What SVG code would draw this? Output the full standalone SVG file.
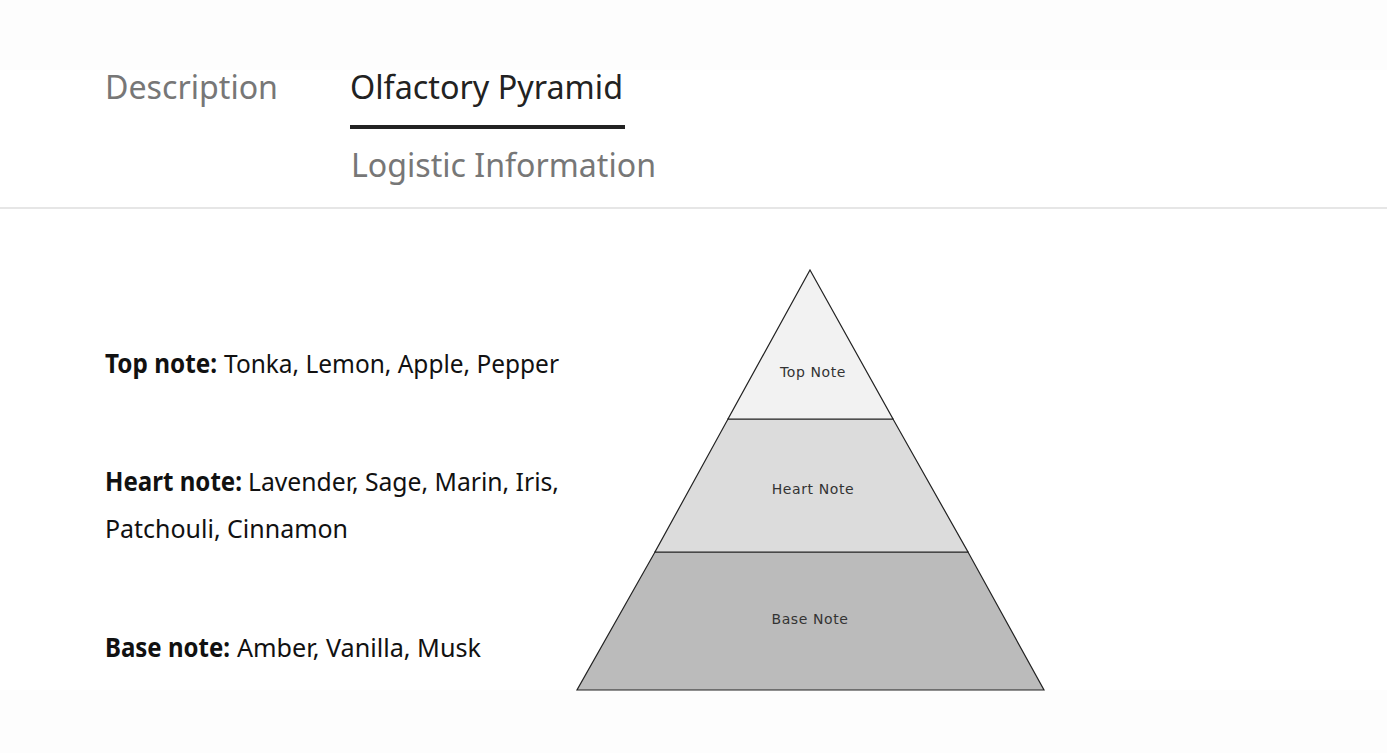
<svg xmlns="http://www.w3.org/2000/svg" width="1387" height="753" viewBox="0 0 1387 753">
<style>
.tab{font-family:"Noto Sans","Open Sans",sans-serif;font-size:32px}
.note{font-family:"Noto Sans","Open Sans",sans-serif;font-size:26px;fill:#111}
.b{font-weight:bold}
.lbl{font-family:"DejaVu Sans","Noto Sans",sans-serif;font-size:14px;fill:#333;text-anchor:middle;letter-spacing:0.6px}
.layer{stroke:#222;stroke-width:1.2}
</style>
<rect width="1387" height="753" fill="#ffffff"/>
<g id="faint-bg" fill="#fdfdfd">
<rect x="0" y="0" width="1387" height="70"/>
<rect x="0" y="690" width="1387" height="63"/>
</g>
<g id="tabs">
<text class="tab" x="105" y="99" fill="#777" textLength="173" lengthAdjust="spacingAndGlyphs">Description</text>
<text class="tab" x="350" y="99" fill="#222" textLength="273" lengthAdjust="spacingAndGlyphs">Olfactory Pyramid</text>
<rect x="350" y="125" width="275" height="4" fill="#222"/>
<text class="tab" x="351" y="177" fill="#777" textLength="305" lengthAdjust="spacingAndGlyphs">Logistic Information</text>
<rect x="0" y="207" width="1387" height="2" fill="#e6e6e6"/>
</g>
<g id="notes">
<text class="note b" x="105" y="373" textLength="112" lengthAdjust="spacingAndGlyphs">Top note:</text>
<text class="note" x="224" y="373" textLength="335" lengthAdjust="spacingAndGlyphs">Tonka, Lemon, Apple, Pepper</text>
<text class="note b" x="105" y="491" textLength="137" lengthAdjust="spacingAndGlyphs">Heart note:</text>
<text class="note" x="248" y="491" textLength="311" lengthAdjust="spacingAndGlyphs">Lavender, Sage, Marin, Iris,</text>
<text class="note" x="105" y="538" textLength="243" lengthAdjust="spacingAndGlyphs">Patchouli, Cinnamon</text>
<text class="note b" x="105" y="657" textLength="125" lengthAdjust="spacingAndGlyphs">Base note:</text>
<text class="note" x="237" y="657" textLength="244" lengthAdjust="spacingAndGlyphs">Amber, Vanilla, Musk</text>
</g>
<g id="pyramid">
<g id="base-layer">
<polygon class="layer" points="655,552 968,552 1044,690 577,690" fill="#bbbbbb"/>
<text class="lbl" x="810" y="624">Base Note</text>
</g>
<g id="heart-layer">
<polygon class="layer" points="728,419 893,419 968,552 655,552" fill="#dcdcdc"/>
<text class="lbl" x="813" y="494">Heart Note</text>
</g>
<g id="top-layer">
<polygon class="layer" points="810,270 893,419 728,419" fill="#f2f2f2"/>
<text class="lbl" x="813" y="377">Top Note</text>
</g>
</g>
<g id="connectors"/>
</svg>
